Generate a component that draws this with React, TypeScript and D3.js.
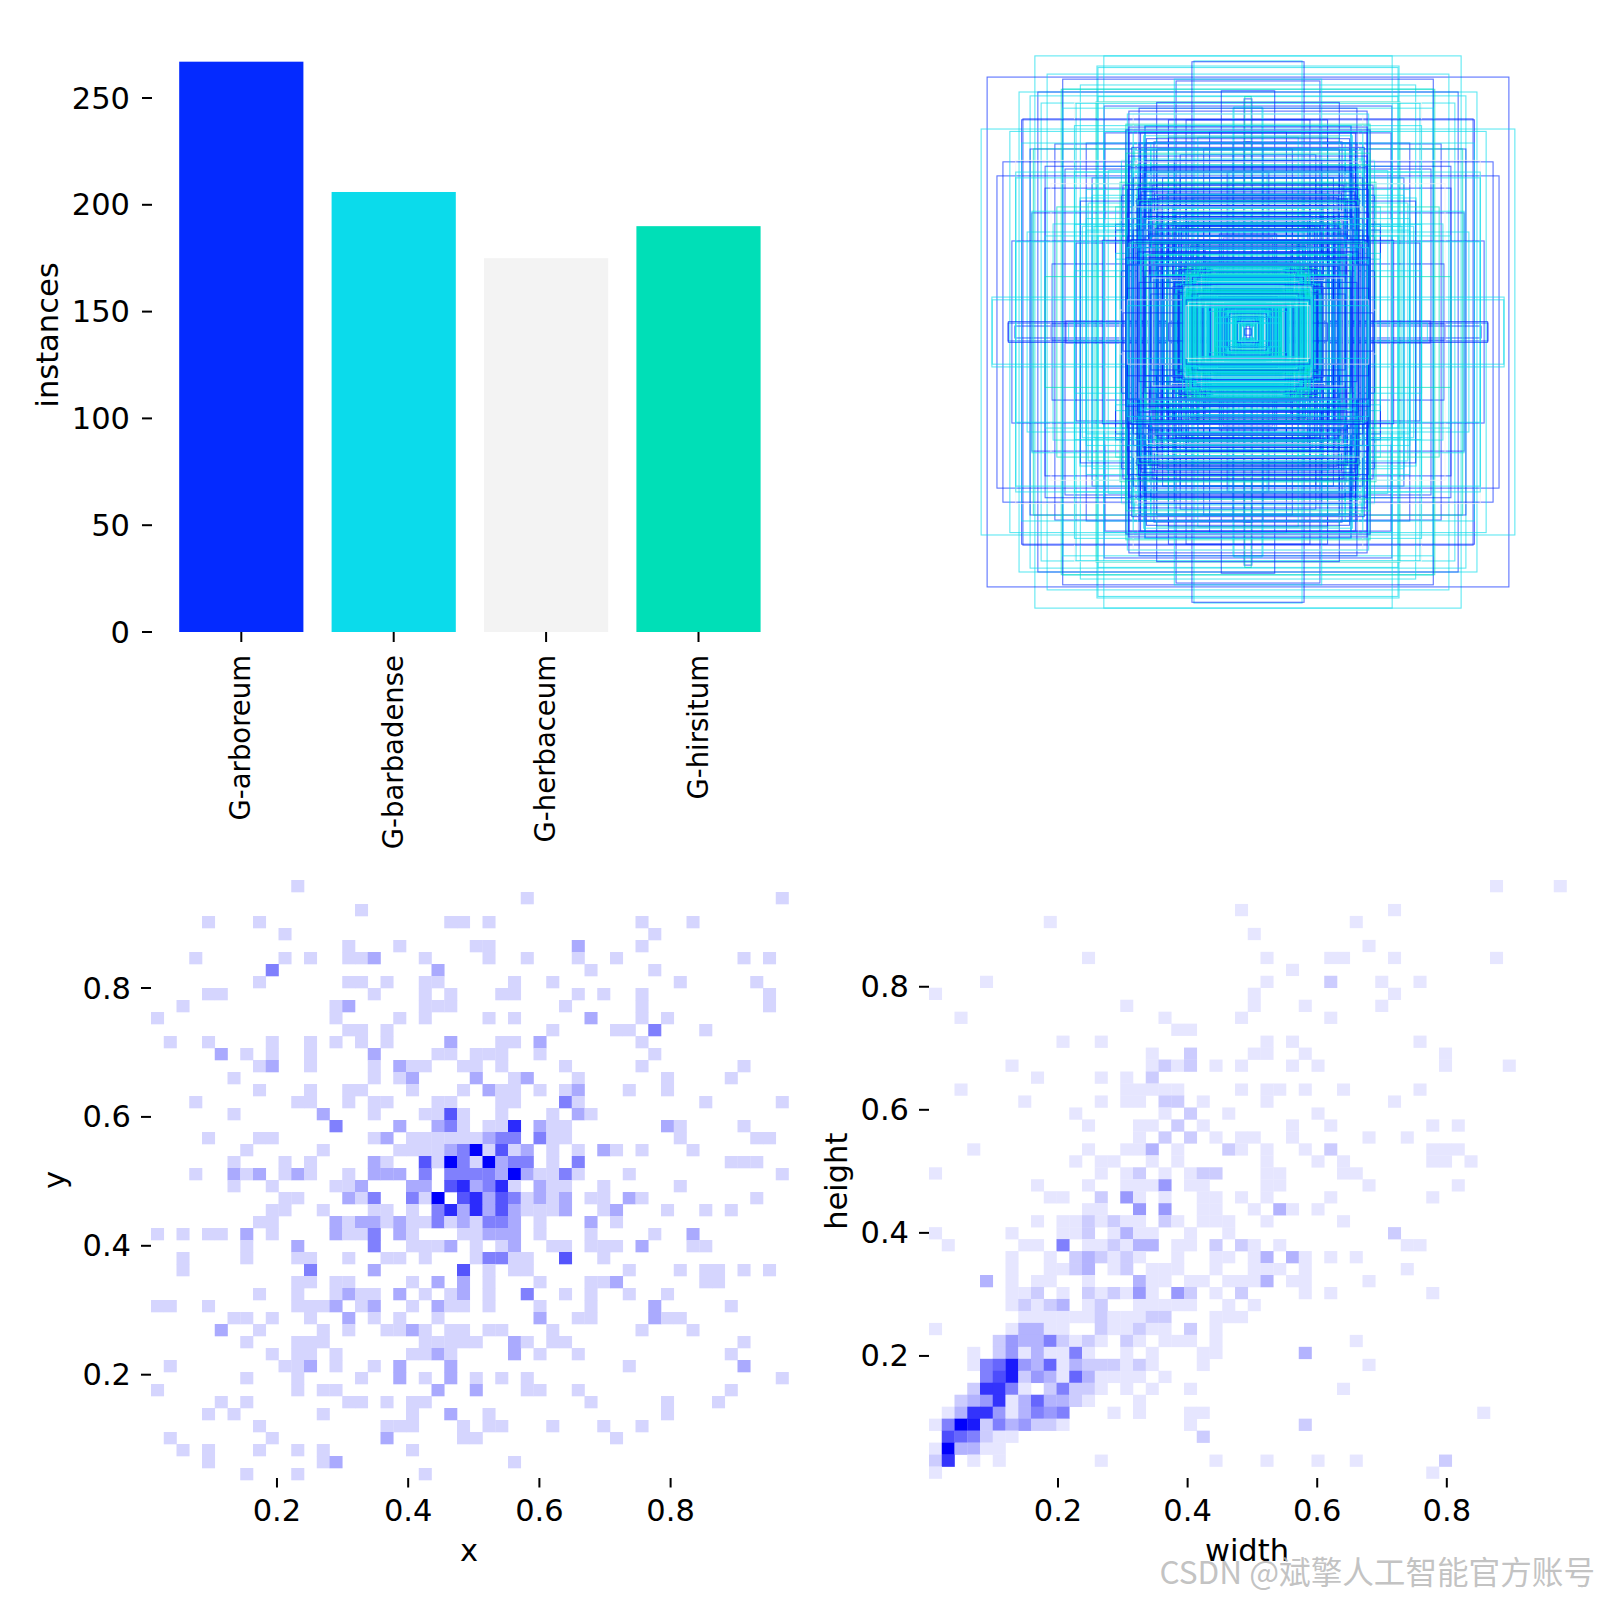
import React from "react";
import * as d3 from "d3";

// ---- bar panel ----
const classNames = ["G-arboreum", "G-barbadense", "G-herbaceum", "G-hirsitum"];
const classCounts = [267, 206, 175, 190];
const classColors = ["#042AFF", "#0BDBEB", "#F3F3F3", "#00DFB7"];
const countTicks = [0, 50, 100, 150, 200, 250];

// ---- 50x50 histogram x/y: one string per row (top to bottom), "col" or "col:count" ----
const xyRows = [
  "11", "29 49", "16", "4 8 23 24 26 38 42", "10 39",
  "15 19 25 26 33:2 38",
  "3 10 12 15 16 17:2 21 26 29 33 36 46 48",
  "9:3 22:2 34 39",
  "8 15 16 18 21 22 28 31 41 47",
  "4 5 17 21 23 27 28 33 35 38 48",
  "2 14 15:2 21 22 23 32 38 48",
  "0 14 19 21 26 28 34:2 38 40",
  "15 16 18 31 36 37 39:3 43",
  "1 4 9 12 14 16 18 23:2 27 28 30:2 38",
  "5:2 7 9 12 17:2 22 23 25 26 27 30 39",
  "8 9:2 12 17 19:2 20 21 24 25 27 32 38 46",
  "6 17 19 20:2 25:2 28 29:2 33 40 45",
  "8 12 15 16 20 24 26:2 27 28 30 32 33:2 37 40",
  "3 11 12 15 17 18 22 23 27 28 32:3 33 43 49",
  "6 13:2 17 21 22 23:4 24 27 31 33:2 34",
  "14:3 19:2 22:2 23:3 24 26 27 28:5 30:2 31 32 40:2 41 46",
  "4 8 9 17 18:2 20 21 22 23 24 25 26:2 27:3 28:3 30:3 31 32 41 47 48",
  "7 13 19 20 21 22 23:2 24:3 25:6 26 27:4 28 29:2 31 33 35:2 36 38 42",
  "6 10 12 17:2 18 21:4 22 23:6 24:3 25 26:6 27:2 28:3 29:3 31 33:3 45 46 47",
  "3 6:2 7 8:2 10 11:2 12 15 17:2 18:2 19:2 21:3 23:3 24:3 25:3 26:3 27:2 28:6 29:2 30 31 32:3 33 37 49",
  "6 9 14 15 16:2 20:2 21:2 23:4 24:5 25:2 26:3 27:5 28 30:2 31 32 35 41",
  "10 11 15:2 16 17:3 20:3 21 22:6 24:4 25:5 26:2 27:4 28:3 29 30:2 31 32:2 34 35 37:2 38 47",
  "9 10 13 17 18 20 22:3 23:5 24:2 25:5 26:2 27:4 28:2 29 30 31 32:2 35 36:2 40 43 45",
  "8 9 14:2 15 16:2 17:2 18 19:2 20 21 22:3 23 24:2 25 26:3 27:3 28:2 30 34:2 36",
  "0 2 4 5 7:2 9 14:2 15 16 17:3 19:2 20 24 25 26:2 27:2 28:2 30 34 39 42:2",
  "7 11:2 17:3 20 21 22 23:2 25 27 28:2 31 32 34 35 36 38:2 42 43",
  "2 7 11 12 15 18 19 21 25 26:3 27:3 28 29 32:4 35",
  "2 12:3 17:2 24:4 26 28 29 37 41 43 44 46 48",
  "11 12 14 15 20 22:2 24:2 26 30 34 35 36:2 43 44",
  "8 11 14 15:2 16 17 19:2 21 23 24:2 26 29:3 32 34 37 40",
  "0 1 4 11 12 13 14:2 16 17:2 20 22:2 23 24 26 30 34 39:2 45",
  "6 7 9 12 15:2 17 19 22 30:2 33 34 39:2 40 41",
  "5:2 8 13 15 18 19 20:2 21 23 24 26 27 31 38 42",
  "7 11 12 13 21 22 23 24 25 28:2 29 31 32 46",
  "9 11 12 14 20 21 22:2 23 28:2 30 33 45",
  "1 10 11 12:2 14 17 19:2 23:2 37 46:2",
  "7 11 16 19:2 21 23:2 25 27 29 49",
  "0 11 13 14 22:2 25:2 29 30 33 45",
  "5 7 15 16 18 20 21 34 40 44",
  "4 6 13 20 23:2 26 40",
  "8 18 19 20 24 26 27 31 35 38",
  "1 9 18:2 24 25 36",
  "2 4 8 11 13 20",
  "4 13 14:2 28",
  "7 11 21",
];

// ---- 50x50 histogram width/height ----
const whRows = [
  "44 49", "", "24 36", "9 33", "25", "34",
  "12 26 31 32 36 44",
  "28",
  "4 26 31:2 35 38",
  "0 25 36",
  "15 25 29 35",
  "2 18 24 31",
  "19 20",
  "10 13 26 28 38",
  "17 20:2 25 26 29 40",
  "6 17 18:2 19 20:2 22 24 28 30 40 45",
  "8 13 15 17:2",
  "2 15 16 17 18 19 24 26 27 29 32 38",
  "7 13 15 16 18:2 19:2 21 26 36",
  "11 18 20:2 23 30",
  "12 16 17 19:2 21 28 31 39 41",
  "16 18:2 20:2 22 24 25 28 34 37",
  "3 12 15 16 17:3 19 23:2 24 26 29 31:2 39 40 41",
  "11 13 14 17 19 26 30 32 39 40 42",
  "0 13 15 16:2 18 20 21:2 22:2 26 27 32 33",
  "8 12 15 16 17 18:4 20 21 26 27 34 41",
  "9 10 13:2 15:4 16 18 21 22 24 26 31 39",
  "12 13 16:4 18:4 21 22 25 27:3 28 30",
  "8 10 11 12:2 13 14:2 15 16 18:2 19 21 22 23 26 32",
  "0 6 10 11 12:2 14 15:3 16 17 20 23 36:2",
  "1 7 8 10:5 12 13 14:2 15 16:3 17:3 19 20 22:2 24:2 25 27 37 38",
  "6 9 11:2 12:3 13:2 14 15:2 16 19 22 23 25 26:3 28:3 29 31 33",
  "6 9 10 11:2 12:3 14 15:2 17 18 19 22 25 26 27 29 37",
  "4:3 6 8 9 12 16:3 17 18 20 21 23 24 25 26:3 28 29 34",
  "6 7 8:2 10 12:2 13 14:2 15 16:4 17 19:4 20:2 22 24:2 29 31 39",
  "6 7:2 8 9:2 10:3 12 13:2 16 17 18 19 20 23 25",
  "7 8 9 10 11 12 13:2 14 15 16 17:2 18:2 22 23 24",
  "0 6 7:3 8:3 9 10 13:2 14 15 16:2 17 18 20:2 22",
  "5:2 6:4 7:3 8:3 9:5 10:2 11 12:2 13 15:2 16 18 19 20 22 33",
  "3 5:2 6:4 7 8:3 9 10 11:5 12 15 17 21 22 29:3",
  "3 4:5 5:6 6:9 7:4 8:3 9:6 10 11:3 12:2 13:2 14:2 15 16:2 17 21 34",
  "4:5 5:7 6:9 7:2 8:4 9:3 10 11:6 12:3 13 14 15 16 18",
  "3:2 4:8 5:8 6:5 7 9:2 10:5 11:2 12:2 13 15 17 20 32",
  "2:2 3:3 4:4 5:8 6 7:3 8:6 9:3 10:3 11:2 12 16",
  "1 2:3 3:8 4:8 5:4 6 7:3 8:5 9:4 10:5 14 16 20 21 43",
  "0 1:5 2:10 3:9 4:2 5:5 6:3 7:4 8:2 9:2 10 20 29:2",
  "1:7 2:6 3:5 4:2 5 6 21:2",
  "0 1:10 2:3 3:3 4 5",
  "0:2 1:8 3 5 13 22 26 30 33 40:2",
  "0 39",
];

const xTicks = [0.2, 0.4, 0.6, 0.8];
const yTicks = [0.2, 0.4, 0.6, 0.8];

// ---- largest label boxes: width, height (fractions of the image), class ----
const bigBoxW = [0.714,0.874,0.506,0.181,0.241,0.673,0.767,0.704,0.62,0.73,0.693,0.576,0.509,0.482,0.754,0.399,0.013,0.047,0.894,0.345,0.479,0.315,0.647,0.73,0.821,0.841,0.613,0.68,0.563,0.724,0.653,0.74,0.791,0.576,0.657,0.858,0.804,0.781,0.66,0.61,0.064,0.013,0.184];
const bigBoxH = [0.925,0.854,0.891,0.908,0.841,0.864,0.804,0.804,0.814,0.791,0.767,0.767,0.771,0.757,0.714,0.74,0.781,0.754,0.68,0.69,0.667,0.637,0.63,0.613,0.57,0.523,0.546,0.482,0.449,0.399,0.362,0.335,0.305,0.298,0.228,0.117,0.03,0.02,0.027,0.037,0.536,0.637,0.452];
const bigBoxClass = [1,0,1,1,0,1,1,0,1,1,1,1,3,0,0,0,0,1,1,0,0,0,0,0,0,0,0,0,1,0,1,1,0,0,0,1,0,0,0,0,1,0,1];
const wideCycle = [1, 1, 0, 1, 3, 1, 2, 1, 0, 1];
const midCycle = [0, 1, 0, 3, 0, 1, 0, 2, 1, 0];
const innerCycle = [1, 1, 0, 1, 1, 3, 1, 1, 2, 1, 0, 1];

type Cell = { col: number; row: number; n: number };
const parseRows = (rows: string[]): Cell[] =>
  rows.flatMap((s, row) =>
    s.split(" ").filter(Boolean).map((t) => {
      const [c, n] = t.split(":");
      return { col: +c, row, n: n ? +n : 1 };
    })
  );

const FONT = "DejaVu Sans";
const FS = 30.5;

function Heat({ rows, xDom, yDom, xRange, yRange, maxN, xLabel, yLabel, yLabelX, yLabelDy, tickX, labelX, xLabelCx }: any) {
  const x = d3.scaleLinear().domain(xDom).range(xRange);
  const y = d3.scaleLinear().domain(yDom).range(yRange);
  const binX = d3.scaleLinear().domain([0, 50]).range(xDom);
  const binY = d3.scaleLinear().domain([0, 50]).range(yDom);
  const col = d3.scaleLinear<string>().domain([0, maxN]).range(["#ffffff", "#0000fb"]);
  const cells = parseRows(rows);
  const axisBottom = 1478;
  return (
    <g>
      {cells.map((c, i) => {
        const x0 = x(binX(c.col));
        const x1 = x(binX(c.col + 1));
        const y0 = y(binY(c.row));
        const y1 = y(binY(c.row + 1));
        return <rect key={i} x={x0} y={y0} width={x1 - x0 + 0.3} height={y1 - y0 + 0.3} fill={col(c.n)} />;
      })}
      {xTicks.map((t) => (
        <g key={t}>
          <line x1={x(t)} x2={x(t)} y1={axisBottom} y2={axisBottom + 9.5} stroke="#000" strokeWidth={2} />
          <text x={x(t)} y={1521} textAnchor="middle" fontFamily={FONT} fontSize={FS}>{t.toFixed(1)}</text>
        </g>
      ))}
      {yTicks.map((t) => (
        <g key={t}>
          <line x1={tickX} x2={tickX + 10} y1={y(t)} y2={y(t)} stroke="#000" strokeWidth={2} />
          <text x={labelX} y={y(t) + 10.5} textAnchor="end" fontFamily={FONT} fontSize={FS}>{t.toFixed(1)}</text>
        </g>
      ))}
      <text x={xLabelCx} y={1561} textAnchor="middle" fontFamily={FONT} fontSize={FS}>{xLabel}</text>
      <text transform={`translate(${yLabelX},${(yRange[0] + yRange[1]) / 2 + yLabelDy}) rotate(-90)`} textAnchor="middle" fontFamily={FONT} fontSize={FS}>{yLabel}</text>
    </g>
  );
}

export default function App() {
  // bars
  const barX = d3.scaleLinear().domain([0, 3]).range([241.3, 698.5]);
  const barY = d3.scaleLinear().domain([0, 250]).range([632, 98]);
  const barW = (barX(1) - barX(0)) * 0.815;

  // boxes
  const boxS = d3.scaleLinear().domain([0, 1]).range([0, 597]);
  const cx = 1248;
  const cy = 332;
  const binW = d3.scaleLinear().domain([0, 50]).range([0.0009, 0.9847]);
  const binH = d3.scaleLinear().domain([0, 50]).range([0.9735, 0.0008]);
  // every counted label of the width/height histogram, spread across its bin
  const allCellBoxes = parseRows(whRows)
    .filter((c) => c.col < 44)
    .flatMap((c) =>
      d3.range(c.n).map((j) => ({
        w: binW(c.col + (j + 0.5) / c.n),
        h: binH(c.row + 1 - (j + 0.5) / c.n),
      }))
    );
  const smallBoxes = allCellBoxes
    .filter((b) => b.w < 0.22 && b.h < 0.22)
    .map((b, i) => ({ ...b, k: innerCycle[i % innerCycle.length] }));
  const midBoxes = allCellBoxes
    .filter((b) => !(b.w < 0.22 && b.h < 0.22) && b.w < 0.42)
    .map((b, i) => ({ ...b, k: midCycle[i % midCycle.length] }));
  const wideBoxes = allCellBoxes
    .filter((b) => b.w >= 0.42)
    .filter((_, i) => i % 3 === 0)
    .map((b, i) => ({ ...b, k: wideCycle[i % wideCycle.length] }));
  const bigBoxes = bigBoxW.map((w, i) => ({ w, h: bigBoxH[i], k: bigBoxClass[i] }));
  const boxes = [...bigBoxes, ...wideBoxes, ...midBoxes, ...smallBoxes];

  return (
    <svg width={1600} height={1600} viewBox="0 0 1600 1600" style={{ position: "absolute", left: 0, top: 0, background: "#fff" }}>
      {/* bars */}
      {classCounts.map((v, i) => (
        <rect key={i} x={barX(i) - barW / 2} y={barY(v)} width={barW} height={barY(0) - barY(v)} fill={classColors[i]} />
      ))}
      {countTicks.map((t) => (
        <g key={t}>
          <line x1={142} x2={152} y1={barY(t)} y2={barY(t)} stroke="#000" strokeWidth={2} />
          <text x={130} y={barY(t) + 10.5} textAnchor="end" fontFamily={FONT} fontSize={FS}>{t}</text>
        </g>
      ))}
      {classNames.map((n, i) => (
        <g key={n}>
          <line x1={barX(i)} x2={barX(i)} y1={632} y2={642} stroke="#000" strokeWidth={2} />
          <text transform={`translate(${barX(i) + 9},655) rotate(-90)`} textAnchor="end" fontFamily={FONT} fontSize={27.5}>{n}</text>
        </g>
      ))}
      <text transform="translate(58,335) rotate(-90)" textAnchor="middle" fontFamily={FONT} fontSize={FS}>instances</text>

      {/* boxes */}
      {boxes.map((b, i) => {
        const w = boxS(b.w);
        const h = boxS(b.h);
        return (
          <rect key={i} x={cx - w / 2} y={cy - h / 2} width={w} height={h} fill="none"
            stroke={classColors[b.k]} strokeWidth={1.1} strokeOpacity={0.65} />
        );
      })}

      {/* histograms */}
      <Heat rows={xyRows} xDom={[0.008, 0.9797]} yDom={[0.9676, 0.0366]} xRange={[151, 788.5]} yRange={[880, 1480]}
        maxN={6} xLabel="x" yLabel="y" yLabelX={65} yLabelDy={0} tickX={141} labelX={131} xLabelCx={469} />
      <Heat rows={whRows} xDom={[0.0009, 0.9847]} yDom={[0.9735, 0.0008]} xRange={[929, 1566.5]} yRange={[880, 1478.5]}
        maxN={10} xLabel="width" yLabel="height" yLabelX={847} yLabelDy={2} tickX={919} labelX={909} xLabelCx={1247} />

      <text x={1595} y={1584} textAnchor="end" fontFamily="'Noto Sans CJK SC', 'Liberation Sans'" fontSize={31.6} fill="#b8b8b8" fillOpacity={0.85}>CSDN @斌擎人工智能官方账号</text>
    </svg>
  );
}
